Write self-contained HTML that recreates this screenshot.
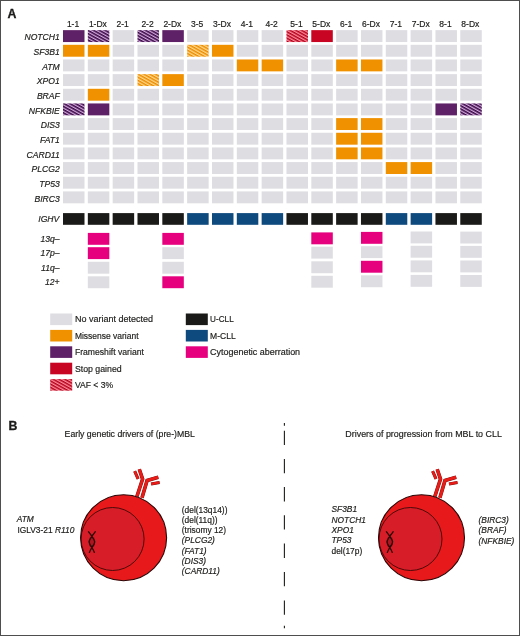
<!DOCTYPE html>
<html><head><meta charset="utf-8"><style>
html,body{margin:0;padding:0;background:#fff;}
body{width:520px;height:636px;overflow:hidden;}
svg{display:block;will-change:transform;}
text{font-family:"Liberation Sans",sans-serif;fill:#1d1d1b;stroke:#1d1d1b;stroke-width:0.18px;}
.cl{font-size:8.5px;text-anchor:middle;}
.rl{font-size:8.6px;font-style:italic;text-anchor:end;}
.lg{font-size:8.9px;}
.pl{font-size:12.3px;font-weight:bold;stroke:#111;stroke-width:0.3px;}
.bt{font-size:9px;}
.gl{font-size:8.4px;}
.it{font-style:italic;}
</style></head><body>
<svg width="520" height="636" viewBox="0 0 520 636">
<defs>
<pattern id="hp" patternUnits="userSpaceOnUse" width="2.8" height="2.8" patternTransform="rotate(29)"><rect width="2.8" height="2.8" fill="#d4a8de"/><rect width="2.8" height="1.55" fill="#3a0a46"/></pattern>
<pattern id="ho" patternUnits="userSpaceOnUse" width="2.8" height="2.8" patternTransform="rotate(29)"><rect width="2.8" height="2.8" fill="#ffd98a"/><rect width="2.8" height="1.45" fill="#ec8a00"/></pattern>
<pattern id="hr" patternUnits="userSpaceOnUse" width="2.8" height="2.8" patternTransform="rotate(29)"><rect width="2.8" height="2.8" fill="#ff8a98"/><rect width="2.8" height="1.45" fill="#b2001c"/></pattern>
</defs>
<rect x="0" y="0" width="520" height="636" fill="#fff"/>
<text x="73.05" y="26.6" class="cl">1-1</text>
<text x="97.88" y="26.6" class="cl">1-Dx</text>
<text x="122.71" y="26.6" class="cl">2-1</text>
<text x="147.54" y="26.6" class="cl">2-2</text>
<text x="172.37" y="26.6" class="cl">2-Dx</text>
<text x="197.2" y="26.6" class="cl">3-5</text>
<text x="222.03" y="26.6" class="cl">3-Dx</text>
<text x="246.86" y="26.6" class="cl">4-1</text>
<text x="271.69" y="26.6" class="cl">4-2</text>
<text x="296.52" y="26.6" class="cl">5-1</text>
<text x="321.35" y="26.6" class="cl">5-Dx</text>
<text x="346.18" y="26.6" class="cl">6-1</text>
<text x="371.01" y="26.6" class="cl">6-Dx</text>
<text x="395.84" y="26.6" class="cl">7-1</text>
<text x="420.67" y="26.6" class="cl">7-Dx</text>
<text x="445.5" y="26.6" class="cl">8-1</text>
<text x="470.33" y="26.6" class="cl">8-Dx</text>
<text x="59.8" y="40.25" class="rl">NOTCH1</text>
<rect x="63" y="30.15" width="21.5" height="11.9" fill="#5e2066"/>
<rect x="87.83" y="30.15" width="21.5" height="11.9" fill="url(#hp)"/>
<rect x="112.66" y="30.15" width="21.5" height="11.9" fill="#dedde2"/>
<rect x="137.49" y="30.15" width="21.5" height="11.9" fill="url(#hp)"/>
<rect x="162.32" y="30.15" width="21.5" height="11.9" fill="#5e2066"/>
<rect x="187.15" y="30.15" width="21.5" height="11.9" fill="#dedde2"/>
<rect x="211.98" y="30.15" width="21.5" height="11.9" fill="#dedde2"/>
<rect x="236.81" y="30.15" width="21.5" height="11.9" fill="#dedde2"/>
<rect x="261.64" y="30.15" width="21.5" height="11.9" fill="#dedde2"/>
<rect x="286.47" y="30.15" width="21.5" height="11.9" fill="url(#hr)"/>
<rect x="311.3" y="30.15" width="21.5" height="11.9" fill="#c80523"/>
<rect x="336.13" y="30.15" width="21.5" height="11.9" fill="#dedde2"/>
<rect x="360.96" y="30.15" width="21.5" height="11.9" fill="#dedde2"/>
<rect x="385.79" y="30.15" width="21.5" height="11.9" fill="#dedde2"/>
<rect x="410.62" y="30.15" width="21.5" height="11.9" fill="#dedde2"/>
<rect x="435.45" y="30.15" width="21.5" height="11.9" fill="#dedde2"/>
<rect x="460.28" y="30.15" width="21.5" height="11.9" fill="#dedde2"/>
<text x="59.8" y="54.91" class="rl">SF3B1</text>
<rect x="63" y="44.81" width="21.5" height="11.9" fill="#f09100"/>
<rect x="87.83" y="44.81" width="21.5" height="11.9" fill="#f09100"/>
<rect x="112.66" y="44.81" width="21.5" height="11.9" fill="#dedde2"/>
<rect x="137.49" y="44.81" width="21.5" height="11.9" fill="#dedde2"/>
<rect x="162.32" y="44.81" width="21.5" height="11.9" fill="#dedde2"/>
<rect x="187.15" y="44.81" width="21.5" height="11.9" fill="url(#ho)"/>
<rect x="211.98" y="44.81" width="21.5" height="11.9" fill="#f09100"/>
<rect x="236.81" y="44.81" width="21.5" height="11.9" fill="#dedde2"/>
<rect x="261.64" y="44.81" width="21.5" height="11.9" fill="#dedde2"/>
<rect x="286.47" y="44.81" width="21.5" height="11.9" fill="#dedde2"/>
<rect x="311.3" y="44.81" width="21.5" height="11.9" fill="#dedde2"/>
<rect x="336.13" y="44.81" width="21.5" height="11.9" fill="#dedde2"/>
<rect x="360.96" y="44.81" width="21.5" height="11.9" fill="#dedde2"/>
<rect x="385.79" y="44.81" width="21.5" height="11.9" fill="#dedde2"/>
<rect x="410.62" y="44.81" width="21.5" height="11.9" fill="#dedde2"/>
<rect x="435.45" y="44.81" width="21.5" height="11.9" fill="#dedde2"/>
<rect x="460.28" y="44.81" width="21.5" height="11.9" fill="#dedde2"/>
<text x="59.8" y="69.57" class="rl">ATM</text>
<rect x="63" y="59.47" width="21.5" height="11.9" fill="#dedde2"/>
<rect x="87.83" y="59.47" width="21.5" height="11.9" fill="#dedde2"/>
<rect x="112.66" y="59.47" width="21.5" height="11.9" fill="#dedde2"/>
<rect x="137.49" y="59.47" width="21.5" height="11.9" fill="#dedde2"/>
<rect x="162.32" y="59.47" width="21.5" height="11.9" fill="#dedde2"/>
<rect x="187.15" y="59.47" width="21.5" height="11.9" fill="#dedde2"/>
<rect x="211.98" y="59.47" width="21.5" height="11.9" fill="#dedde2"/>
<rect x="236.81" y="59.47" width="21.5" height="11.9" fill="#f09100"/>
<rect x="261.64" y="59.47" width="21.5" height="11.9" fill="#f09100"/>
<rect x="286.47" y="59.47" width="21.5" height="11.9" fill="#dedde2"/>
<rect x="311.3" y="59.47" width="21.5" height="11.9" fill="#dedde2"/>
<rect x="336.13" y="59.47" width="21.5" height="11.9" fill="#f09100"/>
<rect x="360.96" y="59.47" width="21.5" height="11.9" fill="#f09100"/>
<rect x="385.79" y="59.47" width="21.5" height="11.9" fill="#dedde2"/>
<rect x="410.62" y="59.47" width="21.5" height="11.9" fill="#dedde2"/>
<rect x="435.45" y="59.47" width="21.5" height="11.9" fill="#dedde2"/>
<rect x="460.28" y="59.47" width="21.5" height="11.9" fill="#dedde2"/>
<text x="59.8" y="84.23" class="rl">XPO1</text>
<rect x="63" y="74.13" width="21.5" height="11.9" fill="#dedde2"/>
<rect x="87.83" y="74.13" width="21.5" height="11.9" fill="#dedde2"/>
<rect x="112.66" y="74.13" width="21.5" height="11.9" fill="#dedde2"/>
<rect x="137.49" y="74.13" width="21.5" height="11.9" fill="url(#ho)"/>
<rect x="162.32" y="74.13" width="21.5" height="11.9" fill="#f09100"/>
<rect x="187.15" y="74.13" width="21.5" height="11.9" fill="#dedde2"/>
<rect x="211.98" y="74.13" width="21.5" height="11.9" fill="#dedde2"/>
<rect x="236.81" y="74.13" width="21.5" height="11.9" fill="#dedde2"/>
<rect x="261.64" y="74.13" width="21.5" height="11.9" fill="#dedde2"/>
<rect x="286.47" y="74.13" width="21.5" height="11.9" fill="#dedde2"/>
<rect x="311.3" y="74.13" width="21.5" height="11.9" fill="#dedde2"/>
<rect x="336.13" y="74.13" width="21.5" height="11.9" fill="#dedde2"/>
<rect x="360.96" y="74.13" width="21.5" height="11.9" fill="#dedde2"/>
<rect x="385.79" y="74.13" width="21.5" height="11.9" fill="#dedde2"/>
<rect x="410.62" y="74.13" width="21.5" height="11.9" fill="#dedde2"/>
<rect x="435.45" y="74.13" width="21.5" height="11.9" fill="#dedde2"/>
<rect x="460.28" y="74.13" width="21.5" height="11.9" fill="#dedde2"/>
<text x="59.8" y="98.89" class="rl">BRAF</text>
<rect x="63" y="88.79" width="21.5" height="11.9" fill="#dedde2"/>
<rect x="87.83" y="88.79" width="21.5" height="11.9" fill="#f09100"/>
<rect x="112.66" y="88.79" width="21.5" height="11.9" fill="#dedde2"/>
<rect x="137.49" y="88.79" width="21.5" height="11.9" fill="#dedde2"/>
<rect x="162.32" y="88.79" width="21.5" height="11.9" fill="#dedde2"/>
<rect x="187.15" y="88.79" width="21.5" height="11.9" fill="#dedde2"/>
<rect x="211.98" y="88.79" width="21.5" height="11.9" fill="#dedde2"/>
<rect x="236.81" y="88.79" width="21.5" height="11.9" fill="#dedde2"/>
<rect x="261.64" y="88.79" width="21.5" height="11.9" fill="#dedde2"/>
<rect x="286.47" y="88.79" width="21.5" height="11.9" fill="#dedde2"/>
<rect x="311.3" y="88.79" width="21.5" height="11.9" fill="#dedde2"/>
<rect x="336.13" y="88.79" width="21.5" height="11.9" fill="#dedde2"/>
<rect x="360.96" y="88.79" width="21.5" height="11.9" fill="#dedde2"/>
<rect x="385.79" y="88.79" width="21.5" height="11.9" fill="#dedde2"/>
<rect x="410.62" y="88.79" width="21.5" height="11.9" fill="#dedde2"/>
<rect x="435.45" y="88.79" width="21.5" height="11.9" fill="#dedde2"/>
<rect x="460.28" y="88.79" width="21.5" height="11.9" fill="#dedde2"/>
<text x="59.8" y="113.55" class="rl">NFKBIE</text>
<rect x="63" y="103.45" width="21.5" height="11.9" fill="url(#hp)"/>
<rect x="87.83" y="103.45" width="21.5" height="11.9" fill="#5e2066"/>
<rect x="112.66" y="103.45" width="21.5" height="11.9" fill="#dedde2"/>
<rect x="137.49" y="103.45" width="21.5" height="11.9" fill="#dedde2"/>
<rect x="162.32" y="103.45" width="21.5" height="11.9" fill="#dedde2"/>
<rect x="187.15" y="103.45" width="21.5" height="11.9" fill="#dedde2"/>
<rect x="211.98" y="103.45" width="21.5" height="11.9" fill="#dedde2"/>
<rect x="236.81" y="103.45" width="21.5" height="11.9" fill="#dedde2"/>
<rect x="261.64" y="103.45" width="21.5" height="11.9" fill="#dedde2"/>
<rect x="286.47" y="103.45" width="21.5" height="11.9" fill="#dedde2"/>
<rect x="311.3" y="103.45" width="21.5" height="11.9" fill="#dedde2"/>
<rect x="336.13" y="103.45" width="21.5" height="11.9" fill="#dedde2"/>
<rect x="360.96" y="103.45" width="21.5" height="11.9" fill="#dedde2"/>
<rect x="385.79" y="103.45" width="21.5" height="11.9" fill="#dedde2"/>
<rect x="410.62" y="103.45" width="21.5" height="11.9" fill="#dedde2"/>
<rect x="435.45" y="103.45" width="21.5" height="11.9" fill="#5e2066"/>
<rect x="460.28" y="103.45" width="21.5" height="11.9" fill="url(#hp)"/>
<text x="59.8" y="128.21" class="rl">DIS3</text>
<rect x="63" y="118.11" width="21.5" height="11.9" fill="#dedde2"/>
<rect x="87.83" y="118.11" width="21.5" height="11.9" fill="#dedde2"/>
<rect x="112.66" y="118.11" width="21.5" height="11.9" fill="#dedde2"/>
<rect x="137.49" y="118.11" width="21.5" height="11.9" fill="#dedde2"/>
<rect x="162.32" y="118.11" width="21.5" height="11.9" fill="#dedde2"/>
<rect x="187.15" y="118.11" width="21.5" height="11.9" fill="#dedde2"/>
<rect x="211.98" y="118.11" width="21.5" height="11.9" fill="#dedde2"/>
<rect x="236.81" y="118.11" width="21.5" height="11.9" fill="#dedde2"/>
<rect x="261.64" y="118.11" width="21.5" height="11.9" fill="#dedde2"/>
<rect x="286.47" y="118.11" width="21.5" height="11.9" fill="#dedde2"/>
<rect x="311.3" y="118.11" width="21.5" height="11.9" fill="#dedde2"/>
<rect x="336.13" y="118.11" width="21.5" height="11.9" fill="#f09100"/>
<rect x="360.96" y="118.11" width="21.5" height="11.9" fill="#f09100"/>
<rect x="385.79" y="118.11" width="21.5" height="11.9" fill="#dedde2"/>
<rect x="410.62" y="118.11" width="21.5" height="11.9" fill="#dedde2"/>
<rect x="435.45" y="118.11" width="21.5" height="11.9" fill="#dedde2"/>
<rect x="460.28" y="118.11" width="21.5" height="11.9" fill="#dedde2"/>
<text x="59.8" y="142.87" class="rl">FAT1</text>
<rect x="63" y="132.77" width="21.5" height="11.9" fill="#dedde2"/>
<rect x="87.83" y="132.77" width="21.5" height="11.9" fill="#dedde2"/>
<rect x="112.66" y="132.77" width="21.5" height="11.9" fill="#dedde2"/>
<rect x="137.49" y="132.77" width="21.5" height="11.9" fill="#dedde2"/>
<rect x="162.32" y="132.77" width="21.5" height="11.9" fill="#dedde2"/>
<rect x="187.15" y="132.77" width="21.5" height="11.9" fill="#dedde2"/>
<rect x="211.98" y="132.77" width="21.5" height="11.9" fill="#dedde2"/>
<rect x="236.81" y="132.77" width="21.5" height="11.9" fill="#dedde2"/>
<rect x="261.64" y="132.77" width="21.5" height="11.9" fill="#dedde2"/>
<rect x="286.47" y="132.77" width="21.5" height="11.9" fill="#dedde2"/>
<rect x="311.3" y="132.77" width="21.5" height="11.9" fill="#dedde2"/>
<rect x="336.13" y="132.77" width="21.5" height="11.9" fill="#f09100"/>
<rect x="360.96" y="132.77" width="21.5" height="11.9" fill="#f09100"/>
<rect x="385.79" y="132.77" width="21.5" height="11.9" fill="#dedde2"/>
<rect x="410.62" y="132.77" width="21.5" height="11.9" fill="#dedde2"/>
<rect x="435.45" y="132.77" width="21.5" height="11.9" fill="#dedde2"/>
<rect x="460.28" y="132.77" width="21.5" height="11.9" fill="#dedde2"/>
<text x="59.8" y="157.53" class="rl">CARD11</text>
<rect x="63" y="147.43" width="21.5" height="11.9" fill="#dedde2"/>
<rect x="87.83" y="147.43" width="21.5" height="11.9" fill="#dedde2"/>
<rect x="112.66" y="147.43" width="21.5" height="11.9" fill="#dedde2"/>
<rect x="137.49" y="147.43" width="21.5" height="11.9" fill="#dedde2"/>
<rect x="162.32" y="147.43" width="21.5" height="11.9" fill="#dedde2"/>
<rect x="187.15" y="147.43" width="21.5" height="11.9" fill="#dedde2"/>
<rect x="211.98" y="147.43" width="21.5" height="11.9" fill="#dedde2"/>
<rect x="236.81" y="147.43" width="21.5" height="11.9" fill="#dedde2"/>
<rect x="261.64" y="147.43" width="21.5" height="11.9" fill="#dedde2"/>
<rect x="286.47" y="147.43" width="21.5" height="11.9" fill="#dedde2"/>
<rect x="311.3" y="147.43" width="21.5" height="11.9" fill="#dedde2"/>
<rect x="336.13" y="147.43" width="21.5" height="11.9" fill="#f09100"/>
<rect x="360.96" y="147.43" width="21.5" height="11.9" fill="#f09100"/>
<rect x="385.79" y="147.43" width="21.5" height="11.9" fill="#dedde2"/>
<rect x="410.62" y="147.43" width="21.5" height="11.9" fill="#dedde2"/>
<rect x="435.45" y="147.43" width="21.5" height="11.9" fill="#dedde2"/>
<rect x="460.28" y="147.43" width="21.5" height="11.9" fill="#dedde2"/>
<text x="59.8" y="172.19" class="rl">PLCG2</text>
<rect x="63" y="162.09" width="21.5" height="11.9" fill="#dedde2"/>
<rect x="87.83" y="162.09" width="21.5" height="11.9" fill="#dedde2"/>
<rect x="112.66" y="162.09" width="21.5" height="11.9" fill="#dedde2"/>
<rect x="137.49" y="162.09" width="21.5" height="11.9" fill="#dedde2"/>
<rect x="162.32" y="162.09" width="21.5" height="11.9" fill="#dedde2"/>
<rect x="187.15" y="162.09" width="21.5" height="11.9" fill="#dedde2"/>
<rect x="211.98" y="162.09" width="21.5" height="11.9" fill="#dedde2"/>
<rect x="236.81" y="162.09" width="21.5" height="11.9" fill="#dedde2"/>
<rect x="261.64" y="162.09" width="21.5" height="11.9" fill="#dedde2"/>
<rect x="286.47" y="162.09" width="21.5" height="11.9" fill="#dedde2"/>
<rect x="311.3" y="162.09" width="21.5" height="11.9" fill="#dedde2"/>
<rect x="336.13" y="162.09" width="21.5" height="11.9" fill="#dedde2"/>
<rect x="360.96" y="162.09" width="21.5" height="11.9" fill="#dedde2"/>
<rect x="385.79" y="162.09" width="21.5" height="11.9" fill="#f09100"/>
<rect x="410.62" y="162.09" width="21.5" height="11.9" fill="#f09100"/>
<rect x="435.45" y="162.09" width="21.5" height="11.9" fill="#dedde2"/>
<rect x="460.28" y="162.09" width="21.5" height="11.9" fill="#dedde2"/>
<text x="59.8" y="186.85" class="rl">TP53</text>
<rect x="63" y="176.75" width="21.5" height="11.9" fill="#dedde2"/>
<rect x="87.83" y="176.75" width="21.5" height="11.9" fill="#dedde2"/>
<rect x="112.66" y="176.75" width="21.5" height="11.9" fill="#dedde2"/>
<rect x="137.49" y="176.75" width="21.5" height="11.9" fill="#dedde2"/>
<rect x="162.32" y="176.75" width="21.5" height="11.9" fill="#dedde2"/>
<rect x="187.15" y="176.75" width="21.5" height="11.9" fill="#dedde2"/>
<rect x="211.98" y="176.75" width="21.5" height="11.9" fill="#dedde2"/>
<rect x="236.81" y="176.75" width="21.5" height="11.9" fill="#dedde2"/>
<rect x="261.64" y="176.75" width="21.5" height="11.9" fill="#dedde2"/>
<rect x="286.47" y="176.75" width="21.5" height="11.9" fill="#dedde2"/>
<rect x="311.3" y="176.75" width="21.5" height="11.9" fill="#dedde2"/>
<rect x="336.13" y="176.75" width="21.5" height="11.9" fill="#dedde2"/>
<rect x="360.96" y="176.75" width="21.5" height="11.9" fill="#dedde2"/>
<rect x="385.79" y="176.75" width="21.5" height="11.9" fill="#dedde2"/>
<rect x="410.62" y="176.75" width="21.5" height="11.9" fill="#dedde2"/>
<rect x="435.45" y="176.75" width="21.5" height="11.9" fill="#dedde2"/>
<rect x="460.28" y="176.75" width="21.5" height="11.9" fill="#dedde2"/>
<text x="59.8" y="201.51" class="rl">BIRC3</text>
<rect x="63" y="191.41" width="21.5" height="11.9" fill="#dedde2"/>
<rect x="87.83" y="191.41" width="21.5" height="11.9" fill="#dedde2"/>
<rect x="112.66" y="191.41" width="21.5" height="11.9" fill="#dedde2"/>
<rect x="137.49" y="191.41" width="21.5" height="11.9" fill="#dedde2"/>
<rect x="162.32" y="191.41" width="21.5" height="11.9" fill="#dedde2"/>
<rect x="187.15" y="191.41" width="21.5" height="11.9" fill="#dedde2"/>
<rect x="211.98" y="191.41" width="21.5" height="11.9" fill="#dedde2"/>
<rect x="236.81" y="191.41" width="21.5" height="11.9" fill="#dedde2"/>
<rect x="261.64" y="191.41" width="21.5" height="11.9" fill="#dedde2"/>
<rect x="286.47" y="191.41" width="21.5" height="11.9" fill="#dedde2"/>
<rect x="311.3" y="191.41" width="21.5" height="11.9" fill="#dedde2"/>
<rect x="336.13" y="191.41" width="21.5" height="11.9" fill="#dedde2"/>
<rect x="360.96" y="191.41" width="21.5" height="11.9" fill="#dedde2"/>
<rect x="385.79" y="191.41" width="21.5" height="11.9" fill="#dedde2"/>
<rect x="410.62" y="191.41" width="21.5" height="11.9" fill="#dedde2"/>
<rect x="435.45" y="191.41" width="21.5" height="11.9" fill="#dedde2"/>
<rect x="460.28" y="191.41" width="21.5" height="11.9" fill="#dedde2"/>
<text x="59.3" y="222.2" class="rl">IGHV</text>
<rect x="63" y="213.1" width="21.5" height="11.7" fill="#1a1a18"/>
<rect x="87.83" y="213.1" width="21.5" height="11.7" fill="#1a1a18"/>
<rect x="112.66" y="213.1" width="21.5" height="11.7" fill="#1a1a18"/>
<rect x="137.49" y="213.1" width="21.5" height="11.7" fill="#1a1a18"/>
<rect x="162.32" y="213.1" width="21.5" height="11.7" fill="#1a1a18"/>
<rect x="187.15" y="213.1" width="21.5" height="11.7" fill="#0e4a7e"/>
<rect x="211.98" y="213.1" width="21.5" height="11.7" fill="#0e4a7e"/>
<rect x="236.81" y="213.1" width="21.5" height="11.7" fill="#0e4a7e"/>
<rect x="261.64" y="213.1" width="21.5" height="11.7" fill="#0e4a7e"/>
<rect x="286.47" y="213.1" width="21.5" height="11.7" fill="#1a1a18"/>
<rect x="311.3" y="213.1" width="21.5" height="11.7" fill="#1a1a18"/>
<rect x="336.13" y="213.1" width="21.5" height="11.7" fill="#1a1a18"/>
<rect x="360.96" y="213.1" width="21.5" height="11.7" fill="#1a1a18"/>
<rect x="385.79" y="213.1" width="21.5" height="11.7" fill="#0e4a7e"/>
<rect x="410.62" y="213.1" width="21.5" height="11.7" fill="#0e4a7e"/>
<rect x="435.45" y="213.1" width="21.5" height="11.7" fill="#1a1a18"/>
<rect x="460.28" y="213.1" width="21.5" height="11.7" fill="#1a1a18"/>
<text x="59.5" y="241.7" class="rl">13q–</text>
<text x="59.5" y="256" class="rl">17p–</text>
<text x="59.5" y="270.6" class="rl">11q–</text>
<text x="59.5" y="285.1" class="rl">12+</text>
<rect x="87.83" y="232.9" width="21.5" height="11.9" fill="#e6007e"/>
<rect x="87.83" y="247.2" width="21.5" height="11.9" fill="#e6007e"/>
<rect x="87.83" y="261.8" width="21.5" height="11.9" fill="#dedde2"/>
<rect x="87.83" y="276.3" width="21.5" height="11.9" fill="#dedde2"/>
<rect x="162.32" y="232.9" width="21.5" height="11.9" fill="#e6007e"/>
<rect x="162.32" y="247.2" width="21.5" height="11.9" fill="#dedde2"/>
<rect x="162.32" y="261.8" width="21.5" height="11.9" fill="#dedde2"/>
<rect x="162.32" y="276.3" width="21.5" height="11.9" fill="#e6007e"/>
<rect x="311.3" y="232.4" width="21.5" height="11.9" fill="#e6007e"/>
<rect x="311.3" y="246.7" width="21.5" height="11.9" fill="#dedde2"/>
<rect x="311.3" y="261.3" width="21.5" height="11.9" fill="#dedde2"/>
<rect x="311.3" y="275.8" width="21.5" height="11.9" fill="#dedde2"/>
<rect x="360.96" y="231.9" width="21.5" height="11.9" fill="#e6007e"/>
<rect x="360.96" y="246.2" width="21.5" height="11.9" fill="#dedde2"/>
<rect x="360.96" y="260.8" width="21.5" height="11.9" fill="#e6007e"/>
<rect x="360.96" y="275.3" width="21.5" height="11.9" fill="#dedde2"/>
<rect x="410.62" y="231.5" width="21.5" height="11.9" fill="#dedde2"/>
<rect x="410.62" y="245.8" width="21.5" height="11.9" fill="#dedde2"/>
<rect x="410.62" y="260.4" width="21.5" height="11.9" fill="#dedde2"/>
<rect x="410.62" y="274.9" width="21.5" height="11.9" fill="#dedde2"/>
<rect x="460.28" y="231.6" width="21.5" height="11.9" fill="#dedde2"/>
<rect x="460.28" y="245.9" width="21.5" height="11.9" fill="#dedde2"/>
<rect x="460.28" y="260.5" width="21.5" height="11.9" fill="#dedde2"/>
<rect x="460.28" y="275" width="21.5" height="11.9" fill="#dedde2"/>
<rect x="50.2" y="313.5" width="22.0" height="11.6" fill="#dedde2"/>
<text x="74.9" y="322.4" class="lg" textLength="78.0" lengthAdjust="spacingAndGlyphs">No variant detected</text>
<rect x="50.2" y="329.9" width="22.0" height="11.6" fill="#f09100"/>
<text x="74.9" y="338.8" class="lg" textLength="63.6" lengthAdjust="spacingAndGlyphs">Missense variant</text>
<rect x="50.2" y="346.3" width="22.0" height="11.6" fill="#5e2066"/>
<text x="74.9" y="355.2" class="lg" textLength="69.0" lengthAdjust="spacingAndGlyphs">Frameshift variant</text>
<rect x="50.2" y="362.7" width="22.0" height="11.6" fill="#c80523"/>
<text x="74.9" y="371.6" class="lg" textLength="46.8" lengthAdjust="spacingAndGlyphs">Stop gained</text>
<rect x="50.2" y="379.1" width="22.0" height="11.6" fill="url(#hr)"/>
<text x="74.9" y="388" class="lg" textLength="38.2" lengthAdjust="spacingAndGlyphs">VAF &lt; 3%</text>
<rect x="185.8" y="313.5" width="22.0" height="11.6" fill="#1a1a18"/>
<text x="210.1" y="322.4" class="lg" textLength="23.6" lengthAdjust="spacingAndGlyphs">U-CLL</text>
<rect x="185.8" y="329.9" width="22.0" height="11.6" fill="#0e4a7e"/>
<text x="210.1" y="338.8" class="lg" textLength="25.6" lengthAdjust="spacingAndGlyphs">M-CLL</text>
<rect x="185.8" y="346.3" width="22.0" height="11.6" fill="#e6007e"/>
<text x="210.1" y="355.2" class="lg" textLength="90.0" lengthAdjust="spacingAndGlyphs">Cytogenetic aberration</text>
<text x="7.5" y="17.9" class="pl">A</text>
<text x="8.6" y="429.6" class="pl">B</text>
<text x="64.6" y="436.9" class="bt" textLength="130.3" lengthAdjust="spacingAndGlyphs">Early genetic drivers of (pre-)MBL</text>
<text x="345.3" y="437.3" class="bt" textLength="156.6" lengthAdjust="spacingAndGlyphs">Drivers of progression from MBL to CLL</text>
<line x1="284.4" y1="423" x2="284.4" y2="425.8" stroke="#1d1d1b" stroke-width="1.1"/>
<line x1="284.4" y1="430.7" x2="284.4" y2="445" stroke="#1d1d1b" stroke-width="1.1"/>
<line x1="284.4" y1="458.9" x2="284.4" y2="473.2" stroke="#1d1d1b" stroke-width="1.1"/>
<line x1="284.4" y1="487.1" x2="284.4" y2="501.4" stroke="#1d1d1b" stroke-width="1.1"/>
<line x1="284.4" y1="515.3" x2="284.4" y2="529.6" stroke="#1d1d1b" stroke-width="1.1"/>
<line x1="284.4" y1="543.6" x2="284.4" y2="557.9" stroke="#1d1d1b" stroke-width="1.1"/>
<line x1="284.4" y1="571.9" x2="284.4" y2="586.2" stroke="#1d1d1b" stroke-width="1.1"/>
<line x1="284.4" y1="600.5" x2="284.4" y2="614.8" stroke="#1d1d1b" stroke-width="1.1"/>
<line x1="284.4" y1="625.8" x2="284.4" y2="628.3" stroke="#1d1d1b" stroke-width="1.1"/>
<g transform="translate(0,0)"><path d="M136.9,496.5 L142.6,479.1 L139.3,469.3" fill="none" stroke="#6a0c0c" stroke-width="3.6" stroke-linejoin="miter"/><path d="M142,497.8 L147.1,480.5 L158.3,477.2" fill="none" stroke="#6a0c0c" stroke-width="3.6" stroke-linejoin="miter"/><path d="M134.7,471.2 L138.1,478.9" fill="none" stroke="#6a0c0c" stroke-width="3.1" stroke-linejoin="miter"/><path d="M151.1,484 L159.6,482.4" fill="none" stroke="#6a0c0c" stroke-width="3.1" stroke-linejoin="miter"/><path d="M136.9,496.5 L142.6,479.1 L139.3,469.3" fill="none" stroke="#ea1c18" stroke-width="2.9" stroke-linejoin="miter"/><path d="M142,497.8 L147.1,480.5 L158.3,477.2" fill="none" stroke="#ea1c18" stroke-width="2.9" stroke-linejoin="miter"/><path d="M134.7,471.2 L138.1,478.9" fill="none" stroke="#ea1c18" stroke-width="2.4" stroke-linejoin="miter"/><path d="M151.1,484 L159.6,482.4" fill="none" stroke="#ea1c18" stroke-width="2.4" stroke-linejoin="miter"/><circle cx="123.6" cy="537.7" r="43" fill="#e8191a" stroke="#2a0606" stroke-width="1.1"/><circle cx="112.6" cy="539.0" r="31.5" fill="#d71e28" stroke="#3a0808" stroke-width="0.9"/><path d="M89.3,537.5 C88.6,540 88.6,544 89.6,546.5 L94.2,546.5 C95.2,544 95.2,540 94.5,537.5 Z" fill="#5a0a10" opacity="0.35"/><path d="M88.2,531.4 C89.6,533.2 91,534.8 91.9,536.3 C93.7,538.8 94.8,540.4 94.7,542 C94.6,544 93.1,546 91.9,547.5 C91,549 89.8,551 89.3,552.9" fill="none" stroke="#2a0505" stroke-width="1.35"/><path d="M95.6,531.4 C94.2,533.2 92.8,534.8 91.9,536.3 C90.1,538.8 89,540.4 89.1,542 C89.2,544 90.7,546 91.9,547.5 C92.8,549 94,551 94.5,552.9" fill="none" stroke="#2a0505" stroke-width="1.35"/></g>
<g transform="translate(297.9,0)"><path d="M136.9,496.5 L142.6,479.1 L139.3,469.3" fill="none" stroke="#6a0c0c" stroke-width="3.6" stroke-linejoin="miter"/><path d="M142,497.8 L147.1,480.5 L158.3,477.2" fill="none" stroke="#6a0c0c" stroke-width="3.6" stroke-linejoin="miter"/><path d="M134.7,471.2 L138.1,478.9" fill="none" stroke="#6a0c0c" stroke-width="3.1" stroke-linejoin="miter"/><path d="M151.1,484 L159.6,482.4" fill="none" stroke="#6a0c0c" stroke-width="3.1" stroke-linejoin="miter"/><path d="M136.9,496.5 L142.6,479.1 L139.3,469.3" fill="none" stroke="#ea1c18" stroke-width="2.9" stroke-linejoin="miter"/><path d="M142,497.8 L147.1,480.5 L158.3,477.2" fill="none" stroke="#ea1c18" stroke-width="2.9" stroke-linejoin="miter"/><path d="M134.7,471.2 L138.1,478.9" fill="none" stroke="#ea1c18" stroke-width="2.4" stroke-linejoin="miter"/><path d="M151.1,484 L159.6,482.4" fill="none" stroke="#ea1c18" stroke-width="2.4" stroke-linejoin="miter"/><circle cx="123.6" cy="537.7" r="43" fill="#e8191a" stroke="#2a0606" stroke-width="1.1"/><circle cx="112.6" cy="539.0" r="31.5" fill="#d71e28" stroke="#3a0808" stroke-width="0.9"/><path d="M89.3,537.5 C88.6,540 88.6,544 89.6,546.5 L94.2,546.5 C95.2,544 95.2,540 94.5,537.5 Z" fill="#5a0a10" opacity="0.35"/><path d="M88.2,531.4 C89.6,533.2 91,534.8 91.9,536.3 C93.7,538.8 94.8,540.4 94.7,542 C94.6,544 93.1,546 91.9,547.5 C91,549 89.8,551 89.3,552.9" fill="none" stroke="#2a0505" stroke-width="1.35"/><path d="M95.6,531.4 C94.2,533.2 92.8,534.8 91.9,536.3 C90.1,538.8 89,540.4 89.1,542 C89.2,544 90.7,546 91.9,547.5 C92.8,549 94,551 94.5,552.9" fill="none" stroke="#2a0505" stroke-width="1.35"/></g>
<text x="16.7" y="522.2" class="gl it">ATM</text>
<text x="17.4" y="532.6" class="gl">IGLV3-21 <tspan font-style="italic">R110</tspan></text>
<text x="181.8" y="512.5" class="gl" text-anchor="start">(del(13q14))</text>
<text x="181.8" y="522.75" class="gl" text-anchor="start">(del(11q))</text>
<text x="181.8" y="533" class="gl" text-anchor="start">(trisomy 12)</text>
<text x="181.8" y="543.25" class="gl it" text-anchor="start">(PLCG2)</text>
<text x="181.8" y="553.5" class="gl it" text-anchor="start">(FAT1)</text>
<text x="181.8" y="563.75" class="gl it" text-anchor="start">(DIS3)</text>
<text x="181.8" y="574" class="gl it" text-anchor="start">(CARD11)</text>
<text x="331.5" y="512.3" class="gl it" text-anchor="start">SF3B1</text>
<text x="331.5" y="522.68" class="gl it" text-anchor="start">NOTCH1</text>
<text x="331.5" y="533.06" class="gl it" text-anchor="start">XPO1</text>
<text x="331.5" y="543.44" class="gl it" text-anchor="start">TP53</text>
<text x="331.5" y="553.82" class="gl" text-anchor="start">del(17p)</text>
<text x="478.5" y="523" class="gl it" text-anchor="start">(BIRC3)</text>
<text x="478.5" y="533.3" class="gl it" text-anchor="start">(BRAF)</text>
<text x="478.5" y="543.6" class="gl it" text-anchor="start">(NFKBIE)</text>
<rect x="0.5" y="0.5" width="519" height="635" fill="none" stroke="#4e4e4e" stroke-width="1"/>
</svg>
</body></html>
